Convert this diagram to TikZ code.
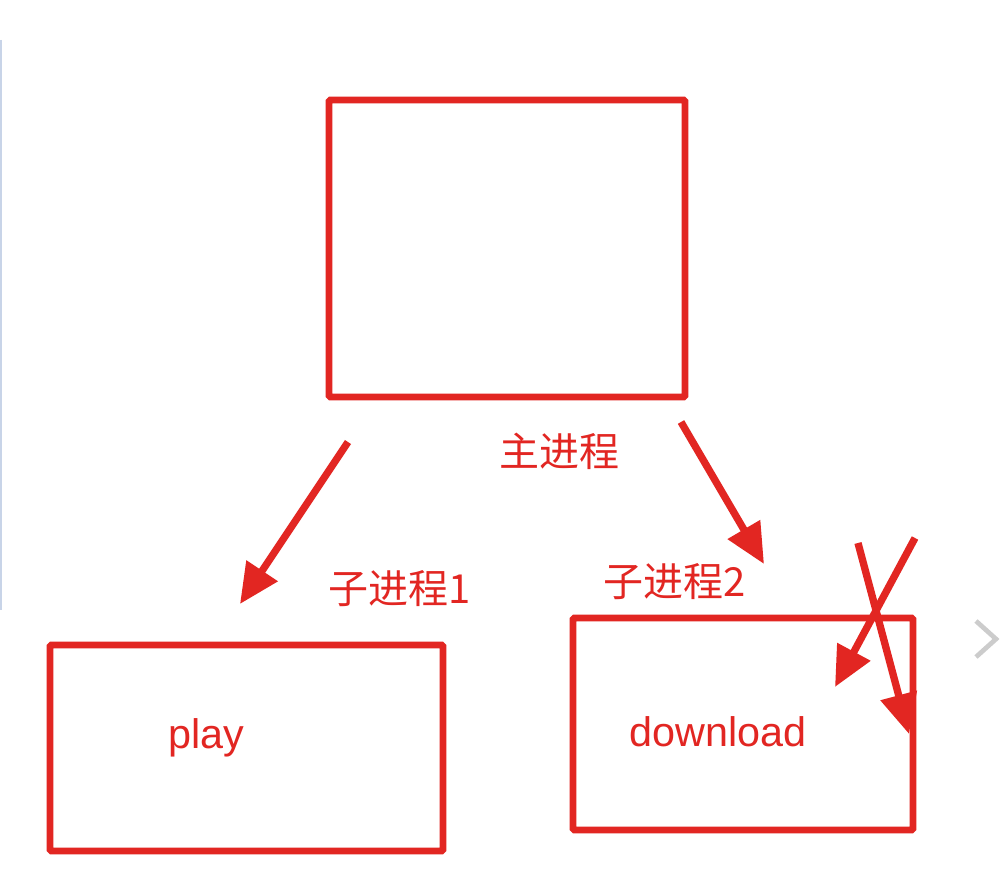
\documentclass[tikz,border=0pt]{standalone}
\usepackage{fontspec}
\setmainfont{Liberation Sans}
\newfontfamily\cjk{Noto Sans CJK SC}
\usetikzlibrary{arrows.meta}
\definecolor{redline}{RGB}{226,38,34}
\definecolor{chev}{RGB}{204,204,204}
\definecolor{sideline}{RGB}{200,212,232}
\begin{document}
\begin{tikzpicture}[x=0.75pt,y=-0.75pt,
  box/.style={draw=redline,line width=5pt,rounded corners=1pt,inner sep=0pt,outer sep=0pt},
  arr/.style={draw=redline,line width=5.5pt,-{Triangle[length=30pt,width=27pt]}},
  cn/.style={text=redline,font=\cjk\fontsize{30}{35}\selectfont,inner sep=0pt},
  lt/.style={text=redline,font=\fontsize{31}{36}\selectfont,inner sep=0pt}]
\useasboundingbox (0,0) rectangle (1004,874);
\fill[white] (0,0) rectangle (1004,874);
\draw[sideline,line width=1.2pt] (1,40) -- (1,610);
% boxes
\node[box,minimum width=267pt,minimum height=222.75pt] (main) at (507,248.5) {};
\node[box,minimum width=294.75pt,minimum height=154.5pt] (play) at (246.5,748) {};
\node[box,minimum width=255pt,minimum height=159pt] (dl) at (743,724) {};
% labels
\node[cn] (lmain) at (559,451) {主进程};
\node[cn] (l1) at (400,589) {子进程1};
\node[cn] (l2) at (675,582) {子进程2};
\node[lt] (tplay) at (206,738) {play};
\node[lt] (tdl) at (718,732) {download};
% arrow coordinates
\coordinate (a1s) at (348,442);
\coordinate (a1e) at (240,604);
\coordinate (a2s) at (681,422);
\coordinate (a2e) at (764,564);
\coordinate (a3s) at (915,538);
\coordinate (a3e) at (835,687);
\coordinate (a4s) at (858,543);
\coordinate (a4e) at (909,734);
\draw[arr] (a1s) -- (a1e);
\draw[arr] (a2s) -- (a2e);
\draw[arr] (a3s) -- (a3e);
\draw[arr] (a4s) -- (a4e);
% chevron
\coordinate (c1) at (976,621);
\coordinate (c2) at (996,639);
\coordinate (c3) at (976,657);
\draw[chev,line width=3.5pt] (c1) -- (c2) -- (c3);
\end{tikzpicture}
\end{document}
